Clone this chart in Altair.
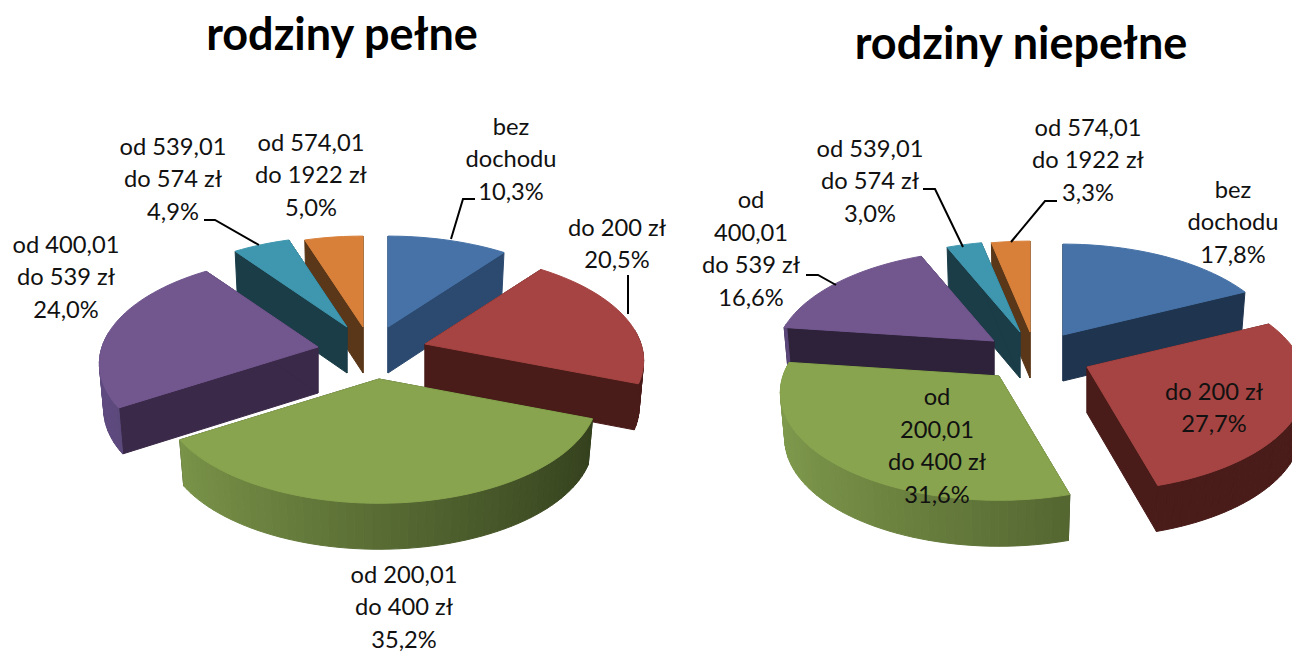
import math
import altair as alt
import pandas as pd

# ---- values ----
categories = ["bez dochodu", "do 200 zł", "od 200,01 do 400 zł", "od 400,01 do 539 zł", "od 539,01 do 574 zł", "od 574,01 do 1922 zł"]
values_full = [10.3, 20.5, 35.2, 24.0, 4.9, 5.0]
values_single = [17.8, 27.7, 31.6, 16.6, 3.0, 3.3]
titles = ["rodziny pełne", "rodziny niepełne"]
labels_full = ["bez\ndochodu\n10,3%", "do 200 zł\n20,5%", "od 200,01\ndo 400 zł\n35,2%", "od 400,01\ndo 539 zł\n24,0%", "od 539,01\ndo 574 zł\n4,9%", "od 574,01\ndo 1922 zł\n5,0%"]
labels_single = ["bez\ndochodu\n17,8%", "do 200 zł\n27,7%", "od\n200,01\ndo 400 zł\n31,6%", "od\n400,01\ndo 539 zł\n16,6%", "od 539,01\ndo 574 zł\n3,0%", "od 574,01\ndo 1922 zł\n3,3%"]

# ---- layout and style ----
top_colors = ["#4672A7", "#A54442", "#88A44E", "#72578F", "#3F97AF", "#D8803A"]
walls_full = [("#2C4A70", "#2C4A70"), ("#491B19", "#491B19"), ("#7F9A4C", "#323E1C"), ("#5F4B80", "#3A2948"), ("#1A3D48", "#1A3D48"), ("#5A3718", "#5A3718")]
walls_single = [("#1F344F", "#1F344F"), ("#491B19", "#491B19"), ("#7F9A4C", "#3C4922"), ("#5A4678", "#2E223A"), ("#1A3D48", "#1A3D48"), ("#5A3718", "#5A3718")]
tips_full = [(388, 327), (425, 344), (379, 379), (318, 347), (347, 327), (363, 327)]
tips_single = [(1063, 335), (1087, 367), (999, 376), (994, 341), (1020, 332), (1030, 332)]
paint_full = [5, 4, 0, 3, 1, 2]
paint_single = [5, 4, 3, 0, 2, 1]
RX, RY, PERSP, DEPTH, NARROW = 216, 105, 0.155, 46, 0.98
LINE = 32.5

label_pos_full = [(511, 160), (617, 245), (404, 608), (66, 278), (173, 180), (311, 176)]
label_pos_single = [(1233, 223), (1214, 409), (937, 447), (751, 250), (870, 182), (1088, 161)]
title_pos = [(342, 36), (1021, 45)]
leaders = [
    [(451, 239), (463, 199), (475, 199)],
    [(628, 275), (628, 314)],
    [(204, 220), (215, 220), (259, 245)],
    [(923, 189), (935, 189), (963, 247)],
    [(1057, 201), (1045, 201), (1011, 242)],
    [(806, 275), (818, 275), (836, 285)],
]


def mix(c1, c2, t):
    a = [int(c1[i:i + 2], 16) for i in (1, 3, 5)]
    b = [int(c2[i:i + 2], 16) for i in (1, 3, 5)]
    return "#%02x%02x%02x" % tuple(round(p + (q - p) * t) for p, q in zip(a, b))


def rim(tip, deg):
    r = math.radians(deg)
    s = 1 / (1 + PERSP * math.cos(r))
    return tip[0] + RX * math.sin(r) * s, tip[1] - RY * math.cos(r) * s


def low(tip, p):
    return tip[0] + (p[0] - tip[0]) * NARROW, p[1] + DEPTH


rows = []
count = [0]


def poly(points, color):
    count[0] += 1
    pts = list(points) + [points[0]]
    for i, (px, py) in enumerate(pts):
        rows.append({"poly": "p%04d" % count[0], "i": i, "px": px, "py": py, "col": color})


def build(values, tips, walls, paint):
    total = sum(values)
    edges = [0]
    for v in values:
        edges.append(edges[-1] + v / total * 360)
    for k in paint:
        a0, a1 = edges[k], edges[k + 1]
        tip = tips[k]
        n = max(3, int((a1 - a0) / 2))
        angs = [a0 + (a1 - a0) * j / n for j in range(n + 1)]
        arc = [rim(tip, a) for a in angs]
        light, dark = walls[k]
        tip_low = (tip[0], tip[1] + DEPTH)
        poly([tip, arc[0], low(tip, arc[0]), tip_low], dark)
        poly([tip, arc[-1], low(tip, arc[-1]), tip_low], dark)
        for j in range(n):
            mid = math.radians((angs[j] + angs[j + 1]) / 2)
            if math.cos(mid) > 0.15:
                continue
            p, q = arc[j], arc[j + 1]
            t = (math.sin(mid) + 1) / 2
            poly([p, q, low(tip, q), low(tip, p)], mix(light, dark, t))
        poly([tip] + arc, top_colors[k])


build(values_full, tips_full, walls_full, paint_full)
build(values_single, tips_single, walls_single, paint_single)
polys = pd.DataFrame(rows)

xs = alt.Scale(domain=[8, 1292], range=[0, 1284])
ys = alt.Scale(domain=[8, 652], range=[0, 644])
X = lambda f: alt.X(f, type="quantitative", scale=xs, axis=None)
Y = lambda f: alt.Y(f, type="quantitative", scale=ys, axis=None)

shapes = alt.Chart(polys).mark_line(filled=True, clip=True, strokeWidth=1, strokeJoin="round").encode(
    x=X("px"), y=Y("py"), order="i:Q", detail="poly:N",
    fill=alt.Fill("col:N", scale=None, legend=None),
    stroke=alt.Stroke("col:N", scale=None, legend=None),
)

lead_rows = [{"lead": n, "i": i, "px": p[0], "py": p[1]} for n, pts in enumerate(leaders) for i, p in enumerate(pts)]
lead_chart = alt.Chart(pd.DataFrame(lead_rows)).mark_line(color="#000000", strokeWidth=2).encode(
    x=X("px"), y=Y("py"), order="i:Q", detail="lead:N")

label_rows = [
    {"t": t, "px": p[0], "py": p[1] - (t.count("\n")) * LINE / 2}
    for t, p in zip(labels_full + labels_single, label_pos_full + label_pos_single)
]
label_chart = alt.Chart(pd.DataFrame(label_rows)).mark_text(
    font="Lato", fontSize=23.7, lineBreak="\n", lineHeight=LINE, color="#111111", align="center", baseline="middle"
).encode(x=X("px"), y=Y("py"), text="t:N")

title_rows = [{"t": t, "px": p[0], "py": p[1]} for t, p in zip(titles, title_pos)]
title_chart = alt.Chart(pd.DataFrame(title_rows)).mark_text(
    font="Lato", fontSize=45, fontWeight="bold", color="#000000", align="center", baseline="middle"
).encode(x=X("px"), y=Y("py"), text="t:N")

chart = alt.layer(shapes, lead_chart, label_chart, title_chart).properties(
    width=1284, height=644, padding=0, autosize=alt.AutoSizeParams(type="none")
).configure_view(stroke=None)

chart.save("out.html", embed_options={"renderer": "svg", "actions": False})
